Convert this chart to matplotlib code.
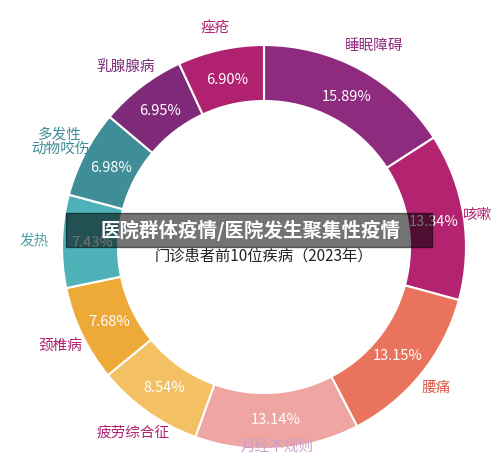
import matplotlib
matplotlib.use("Agg")
import matplotlib.pyplot as plt
import numpy as np

plt.rcParams['font.family'] = ['Noto Sans CJK SC', 'DejaVu Sans']

categories = ['睡眠障碍', '咳嗽', '腰痛', '月经不规则', '疲劳综合征', '颈椎病', '发热', '多发性\n动物咬伤', '乳腺腺病', '痤疮']
values = [15.89, 13.34, 13.15, 13.14, 8.54, 7.68, 7.43, 6.98, 6.95, 6.90]
colors = ['#8f2b7f', '#b3236f', '#ea735d', '#efa6a2', '#f3c063', '#eeaa38', '#4fb2b9', '#3e8d97', '#7f2a79', '#b0216f']
name_colors = ['#8f2b7f', '#b3236f', '#d95a4a', '#c9a0c8', '#b0216f', '#b0216f', '#4fa2a9', '#3e8d97', '#7f2a79', '#b0216f']

fig = plt.figure(figsize=(5, 4.6), dpi=100)
ax = fig.add_axes([0, 0, 1, 1])

cx, cy, R = 264, 460 - 248, 202
ax.pie(values, colors=colors, startangle=90, counterclock=False, radius=R, center=(cx, cy),
       wedgeprops=dict(width=56, edgecolor='white', linewidth=1.5), frame=True)
ax.set_xlim(0, 500)
ax.set_ylim(0, 460)
ax.set_aspect('equal')
ax.axis('off')

cum = np.cumsum([0] + values)
name_r = [230, 216, 222, 200, 226, 226, 230, 230, 228, 225]
for i, v in enumerate(values):
    mid = np.deg2rad(90 - 3.6 * (cum[i] + v / 2))
    r = R - 30
    ax.text(cx + r * np.cos(mid), cy + r * np.sin(mid), f'{v:.2f}%', color='white',
            fontsize=10.5, fontweight='medium', ha='center', va='center')
    rn = name_r[i]
    ax.text(cx + rn * np.cos(mid), cy + rn * np.sin(mid), categories[i], color=name_colors[i],
            fontsize=10.5, ha='center', va='center', linespacing=1.0, zorder=4)

ax.text(cx, cy - 8, '门诊患者前10位疾病（2023年）', fontsize=11, ha='center', va='center', color='#222222')
ax.add_patch(plt.Rectangle((66, 460 - 248), 366, 34, color='#000000', alpha=0.55, zorder=5))
ax.text(250, 460 - 230, '医院群体疫情/医院发生聚集性疫情', fontsize=14, fontweight='bold',
        color='white', ha='center', va='center', zorder=6)

fig.savefig('out.png', dpi=100)
